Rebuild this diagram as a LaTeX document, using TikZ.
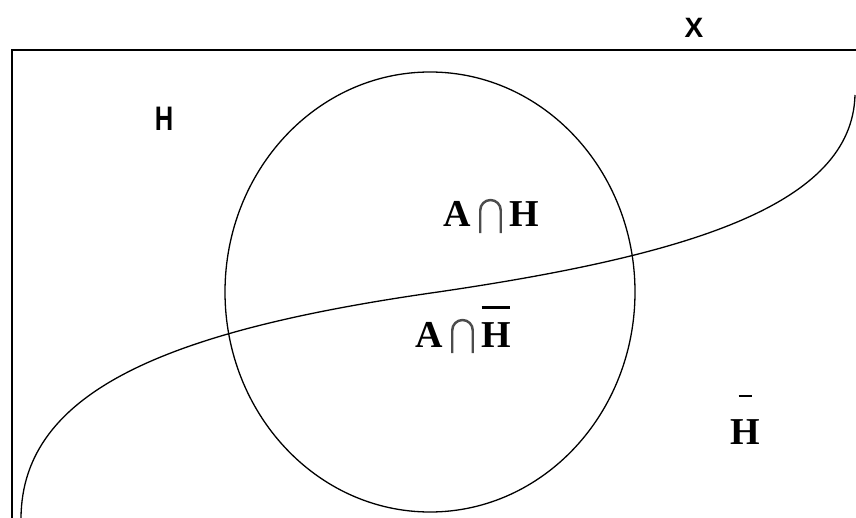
\documentclass[tikz,border=0pt]{standalone}
\usepackage{fontspec}
\setmainfont{Liberation Serif}
\newfontfamily\lsans{Liberation Sans}
\newcommand{\tallcap}{\hspace{0.22em}\tikz[baseline=0pt,x=1pt,y=1pt]{\draw[line width=0.065em,black!70,line cap=butt] (0,-0.16em) -- (0,0.44em) arc[start angle=180,end angle=0,radius=0.27em] -- (0.54em,-0.16em);}\hspace{0.2em}}
\newcommand{\barH}{\leavevmode\rlap{\raisebox{1.0em}{\rule{0.76em}{0.07em}}}H}
\begin{document}
\begin{tikzpicture}[x=1pt,y=-1pt,
  frame/.style={line width=2pt,black},
  curve/.style={line width=1.3pt,black},
  sanslbl/.style={font=\lsans\bfseries\fontsize{28}{28}\selectfont,inner sep=0pt},
  seriflbl/.style={font=\bfseries\fontsize{38}{38}\selectfont,inner sep=0pt}]
\useasboundingbox (0,0) rectangle (856,518);
\coordinate (bl) at (12,518);
\coordinate (tl) at (12,50);
\coordinate (tr) at (856,50);
\draw[frame] (bl) -- (tl) -- (tr);
\draw[curve] (430,292) ellipse [x radius=205, y radius=220];
\coordinate (s0) at (21,518);
\coordinate (sm) at (438,292);
\coordinate (s1) at (855,95);
\draw[curve] (s0) .. controls (22,390) and (170,330) .. (sm)
  .. controls (690,255) and (852,205) .. (s1);
\node[sanslbl] (x) at (694,28) {X};
\node[sanslbl,font=\lsans\bfseries\fontsize{34}{34}\selectfont,xscale=0.75] (h) at (164,119) {H};
\node[seriflbl,anchor=base west] (ah) at (443,227) {A\tallcap H};
\node[seriflbl,anchor=base west] (ahbar) at (415,347) {A\tallcap\barH};
\node[seriflbl,anchor=base] (hbar) at (745,444) {H};
\node[inner sep=0pt] (bar) at (745,396) {\rule{13pt}{2.2pt}};
\end{tikzpicture}
\end{document}
